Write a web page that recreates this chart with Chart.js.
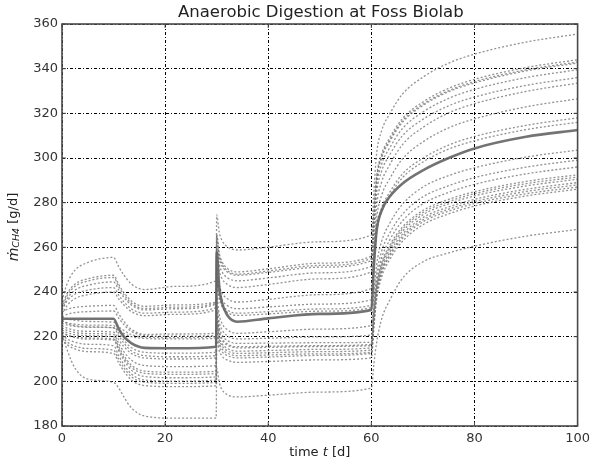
<!DOCTYPE html>
<html><head><meta charset="utf-8">
<script src="https://cdn.jsdelivr.net/npm/chart.js@4"></script>
<style>html,body{margin:0;padding:0;background:#fff}</style>
</head><body>
<canvas id="c" width="595" height="465"></canvas>
<script>
// time axis sample points [d]
const times = [0, 1, 2.5, 5, 10, 11, 12, 13.5, 16, 22, 29.9, 30, 30.5, 31, 32, 34, 40, 50, 60, 60.5, 61, 62, 63.5, 66, 70, 75, 80, 90, 100];

// mean (thick solid line)
const meanRun = [228, 228, 228, 228, 228, 223.5, 220, 217, 215, 214.8, 215.5, 258, 242.3, 235.5, 229.8, 226.7, 228.2, 230.2, 232, 252, 267, 276.5, 282.5, 288.5, 294.5, 300, 304.3, 309.5, 312.5];

// individual runs (dotted lines)
const run01 = [236, 243.8, 249.7, 253.2, 255.5, 251.3, 247.6, 243.5, 241.1, 242.5, 245, 274.5, 266.7, 263.2, 260.4, 258.8, 260.1, 262.5, 265.5, 285.3, 301.5, 312.3, 319.5, 328.5, 336.2, 342.5, 346.5, 351.9, 355.5];
const run02 = [234, 239.4, 243.5, 245.9, 247.5, 243.4, 239.8, 235.9, 233.6, 234.2, 235.5, 266, 257.5, 253.8, 250.7, 249, 250.4, 252.9, 256, 275.4, 291.2, 301.8, 308.8, 317.6, 325.1, 331.2, 335.2, 340.5, 344];
const run03 = [233, 238.4, 242.5, 244.9, 246.5, 242.4, 238.8, 234.9, 232.6, 233.2, 235, 265, 256.5, 252.8, 249.7, 248, 249.4, 251.9, 255, 274.4, 290.2, 300.8, 307.8, 316.6, 324.1, 330.2, 334.2, 339.5, 343];
const run04 = [232, 237, 240.8, 243, 244.5, 240.9, 237.6, 234.1, 232, 232.5, 234.5, 263, 255.3, 251.8, 249.1, 247.5, 248.8, 251.1, 254, 273.5, 289.4, 300, 307.1, 315.9, 323.5, 329.7, 333.6, 339, 342.5];
const run05 = [232, 236, 239, 240.8, 242, 238.6, 235.6, 232.4, 230.5, 231, 233, 260, 252.5, 249.2, 246.5, 245, 246.3, 248.6, 251.5, 270.9, 286.7, 297.3, 304.3, 313.1, 320.6, 326.7, 330.7, 336, 339.5];
const run06 = [230, 234, 237, 238.8, 240, 236.9, 234.2, 231.2, 229.4, 230, 232, 257, 249.5, 246.2, 243.5, 242, 243.4, 245.9, 249, 268.1, 283.8, 294.2, 301.2, 309.9, 317.3, 323.4, 327.3, 332.5, 336];
const run07 = [231, 232.2, 233.1, 233.6, 234, 230.2, 226.8, 223.2, 221, 221.2, 221.5, 251, 243.3, 239.8, 237.1, 235.5, 236.7, 238.8, 241.5, 261.7, 278.3, 289.3, 296.7, 305.9, 313.7, 320.2, 324.3, 329.8, 333.5];
const run08 = [229, 230, 230.8, 231.2, 231.5, 228.3, 225.4, 222.3, 220.5, 220.2, 220.5, 247, 239.8, 236.6, 234, 232.5, 233.3, 234.6, 236.5, 256.3, 272.5, 283.3, 290.5, 299.5, 307.2, 313.5, 317.5, 322.9, 326.5];
const run09 = [229, 228, 227.3, 226.8, 226.5, 224.5, 222.8, 220.9, 219.8, 219.6, 220, 245, 237.8, 234.6, 232, 230.5, 231.2, 232.4, 234, 252.5, 267.6, 277.7, 284.4, 292.8, 299.9, 305.8, 309.6, 314.6, 318];
const run10 = [227.5, 225.9, 225, 224.4, 224, 222.6, 221.4, 220, 219.2, 219, 219.2, 244, 236.8, 233.6, 231, 229.5, 230.2, 231.4, 233, 251.3, 266.2, 276.2, 282.8, 291.1, 298.2, 304, 307.7, 312.7, 316];
const run11 = [227, 226.2, 225.6, 225.2, 225, 221.5, 218.4, 215, 213, 212.6, 213, 238, 229.8, 226.1, 223.2, 221.5, 222.2, 223.4, 225, 239.1, 251.7, 262.7, 270.5, 279.2, 287, 292.1, 295.6, 300.4, 303.5];
const run12 = [226, 225.2, 224.6, 224.2, 224, 220.4, 217.1, 213.6, 211.5, 211, 211.5, 234, 226.5, 223.2, 220.5, 219, 219.3, 219.9, 220.7, 234.8, 247.3, 258.3, 266.1, 274.7, 282.6, 287.6, 291.2, 295.9, 299];
const run13 = [225, 223.8, 222.9, 222.4, 222, 218.6, 215.6, 212.4, 210.5, 210, 210.5, 231, 224, 220.9, 218.4, 217, 217.1, 217.3, 217.5, 231.6, 244.2, 255.2, 263, 271.7, 279.5, 284.6, 288.2, 292.9, 296];
const run14 = [224, 222.8, 221.9, 221.4, 221, 216.9, 213.3, 209.4, 207.1, 206.6, 207, 229, 222.3, 219.3, 216.9, 215.5, 215.7, 216, 216.5, 230.2, 242.3, 253, 260.6, 269, 276.5, 281.5, 284.9, 289.5, 292.5];
const run15 = [223, 221.8, 220.9, 220.4, 220, 215.5, 211.5, 207.2, 204.6, 204.1, 204.5, 228, 221.5, 218.6, 216.3, 215, 215.2, 215.6, 216, 229.6, 241.7, 252.2, 259.8, 268.1, 275.6, 280.5, 284, 288.5, 291.5];
const run16 = [222, 220.8, 219.9, 219.4, 219, 214.5, 210.5, 206.2, 203.6, 203.1, 203.5, 226, 219.8, 217, 214.8, 213.5, 213.8, 214.3, 215, 228.6, 240.7, 251.2, 258.8, 267.1, 274.6, 279.5, 283, 287.5, 290.5];
const run17 = [222, 220.6, 219.6, 218.9, 218.5, 213.7, 209.5, 204.9, 202.2, 201.6, 202, 225, 218.8, 216, 213.8, 212.5, 212.8, 213.3, 214, 227.5, 239.5, 250, 257.5, 265.8, 273.3, 278.1, 281.5, 286, 289];
const run18 = [221, 219, 217.5, 216.6, 216, 211.5, 207.5, 203.2, 200.6, 200.1, 200.5, 223, 217.3, 214.7, 212.7, 211.5, 211.8, 212.3, 213, 226.5, 238.5, 249, 256.5, 264.8, 272.3, 277.1, 280.5, 285, 288];
const run19 = [220, 217.6, 215.8, 214.7, 214, 209.8, 206.1, 202, 199.6, 199.1, 199.5, 221, 215.8, 213.4, 211.6, 210.5, 210.9, 211.6, 212.5, 225.9, 237.8, 248.3, 255.7, 263.9, 271.4, 276.2, 279.6, 284, 287];
const run20 = [219, 216.4, 214.5, 213.3, 212.5, 208.3, 204.6, 200.5, 198.1, 197.6, 198, 219, 213.8, 211.4, 209.6, 208.5, 208.9, 209.6, 210.5, 224.1, 236.2, 246.7, 254.3, 262.6, 270.1, 275, 278.5, 283, 286];
const run21 = [221, 214, 206, 201, 199.5, 197, 193, 188, 184.5, 183.5, 183.5, 206, 199.5, 196.4, 194.1, 193, 193.8, 195.2, 197, 208, 217, 228, 236, 246, 253.5, 257.5, 260.5, 265, 268];

const runs = [run01, run02, run03, run04, run05, run06, run07, run08, run09, run10, run11, run12, run13, run14, run15, run16, run17, run18, run19, run20, run21];

const xTicks = [0, 20, 40, 60, 80, 100];
const yTicks = [180, 200, 220, 240, 260, 280, 300, 320, 340, 360];
const titleText = 'Anaerobic Digestion at Foss Biolab';

const FONT = "'DejaVu Sans', 'Liberation Sans', sans-serif";
const toPts = v => times.map((t, i) => ({ x: t, y: v[i] }));

const datasets = [{
  label: 'mean', data: toPts(meanRun),
  borderColor: 'rgba(100,100,100,0.9)', borderWidth: 2.6,
  pointRadius: 0, cubicInterpolationMode: 'monotone', order: 0
}];
runs.forEach((r, i) => datasets.push({
  label: 'run ' + (i + 1), data: toPts(r),
  borderColor: 'rgba(115,115,115,0.78)', borderWidth: 1.3, borderDash: [2, 2],
  pointRadius: 0, cubicInterpolationMode: 'monotone', order: 1
}));

const decor = {
  id: 'decor',
  afterDraw(chart) {
    const ctx = chart.ctx, a = chart.chartArea;
    const xs = chart.scales.x, ys = chart.scales.y;
    ctx.save();
    // frame
    ctx.strokeStyle = '#4a4a4a'; ctx.lineWidth = 1.6; ctx.setLineDash([]);
    ctx.strokeRect(a.left, a.top, a.right - a.left, a.bottom - a.top);
    // inward ticks
    ctx.lineWidth = 1;
    ctx.beginPath();
    xTicks.forEach(v => { const p = xs.getPixelForValue(v);
      ctx.moveTo(p, a.bottom); ctx.lineTo(p, a.bottom - 4);
      ctx.moveTo(p, a.top); ctx.lineTo(p, a.top + 4); });
    yTicks.forEach(v => { const p = ys.getPixelForValue(v);
      ctx.moveTo(a.left, p); ctx.lineTo(a.left + 4, p);
      ctx.moveTo(a.right, p); ctx.lineTo(a.right - 4, p); });
    ctx.stroke();
    // title
    ctx.fillStyle = '#222';
    ctx.font = '16.5px ' + FONT; ctx.textAlign = 'center'; ctx.textBaseline = 'middle';
    ctx.fillText(titleText, (a.left + a.right) / 2 + 1, 13);
    // x title: time t [d]
    const xparts = [{ t: 'time ', f: '13px ' + FONT }, { t: 't', f: 'italic 13px ' + FONT }, { t: ' [d]', f: '13px ' + FONT }];
    let w = 0; xparts.forEach(p => { ctx.font = p.f; p.w = ctx.measureText(p.t).width; w += p.w; });
    let x0 = (a.left + a.right) / 2 - w / 2;
    ctx.textAlign = 'left';
    xparts.forEach(p => { ctx.font = p.f; ctx.fillText(p.t, x0, 453); x0 += p.w; });
    // y title: m-dot CH4 [g/d]
    ctx.translate(14, (a.top + a.bottom) / 2 + 2);
    ctx.rotate(-Math.PI / 2);
    const yparts = [{ t: '\u1E41', f: 'italic 14px ' + FONT, dy: 0 }, { t: 'CH', f: 'italic 9.5px ' + FONT, dy: 3 }, { t: '4', f: 'italic 9.5px ' + FONT, dy: 3 }, { t: ' [g/d]', f: '13px ' + FONT, dy: 0 }];
    w = 0; yparts.forEach(p => { ctx.font = p.f; p.w = ctx.measureText(p.t).width; w += p.w; });
    x0 = -w / 2;
    yparts.forEach(p => { ctx.font = p.f; ctx.fillText(p.t, x0, p.dy); x0 += p.w; });
    ctx.restore();
  }
};

new Chart(document.getElementById('c'), {
  type: 'line',
  data: { datasets },
  options: {
    responsive: false, animation: false,
    layout: { padding: { top: 24, right: 15, left: 0, bottom: 0 } },
    plugins: { legend: { display: false }, tooltip: { enabled: false }, title: { display: false } },
    scales: {
      x: {
        type: 'linear', min: 0, max: 100,
        afterBuildTicks: s => { s.ticks = xTicks.map(v => ({ value: v })); },
        afterFit: s => { s.height = 39; },
        ticks: { color: '#333', font: { family: FONT, size: 13 }, padding: 5, autoSkip: false, maxRotation: 0 },
        grid: { color: '#000', lineWidth: 1, drawTicks: false },
        border: { display: false, dash: [3, 2, 1, 2] }
      },
      y: {
        type: 'linear', min: 180, max: 360,
        afterBuildTicks: s => { s.ticks = yTicks.map(v => ({ value: v })); },
        afterFit: s => { s.width = 62; },
        ticks: { color: '#333', font: { family: FONT, size: 13 }, padding: 4, autoSkip: false },
        grid: { color: '#000', lineWidth: 1, drawTicks: false },
        border: { display: false, dash: [3, 2, 1, 2] }
      }
    }
  },
  plugins: [decor]
});
</script>
</body></html>
